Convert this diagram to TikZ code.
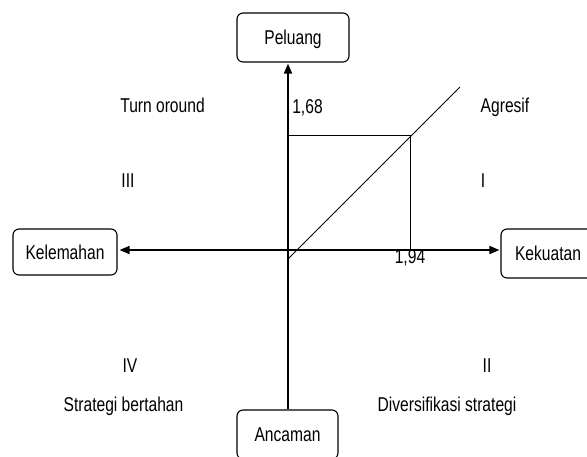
\documentclass[tikz,border=0pt]{standalone}
\usepackage{fontspec}
\setmainfont{Liberation Sans}[FakeStretch=0.78]
\usetikzlibrary{arrows.meta}
\begin{document}
\begin{tikzpicture}[x=1pt,y=-1pt,
  txt/.style={font=\fontsize{20}{24}\selectfont},
  box/.style={txt, draw, rounded corners=6pt, line width=1.1pt, text height=14.5pt, text depth=0pt, inner sep=0pt},
  lbl/.style={txt, anchor=base, inner sep=0pt},
  axis/.style={line width=1.6pt},
  tip/.style={-{Triangle[length=10pt,width=8pt]}},
  thinline/.style={line width=1pt}]
\useasboundingbox (0,0) rectangle (587,456);
\clip (0,0) rectangle (587,456);
% boxes
\node[box, minimum width=112pt, minimum height=49pt] (pel) at (293,37.5) {Peluang};
\node[box, minimum width=104pt, minimum height=46pt] (kel) at (65,252) {Kelemahan};
\node[box, minimum width=94pt, minimum height=49pt] (kek) at (548,253.5) {Kekuatan};
\node[box, minimum width=101pt, minimum height=49pt] (anc) at (287.5,434.5) {Ancaman};
% key points
\coordinate (O) at (288,250);
\coordinate (P) at (410,135);
\coordinate (d1) at (288,259);
\coordinate (d2) at (460,87);
% axes
\draw[axis, {Triangle[length=10pt,width=8pt]}-{Triangle[length=10pt,width=8pt]}, shorten <=2pt, shorten >=1pt] (kel.east |- O) -- (kek.west |- O);
\draw[axis, tip, shorten >=1pt] (anc.north -| O) -- (pel.south -| O);
% inner lines
\draw[thinline] (O |- P) -- (P) -- (P |- O);
\draw[thinline] (d1) -- (d2);
% labels
\node[lbl] (v168) at (307.5,113) {1,68};
\node[lbl] (v194) at (410,263) {1,94};
\node[lbl] (to) at (162.5,112) {Turn oround};
\node[lbl] (ag) at (505,112) {Agresif};
\node[lbl] (q3) at (128,187) {III};
\node[lbl] (q1) at (483,187) {I};
\node[lbl] (q4) at (130,372) {IV};
\node[lbl] (q2) at (487,372) {II};
\node[lbl] (sb) at (123.5,411) {Strategi bertahan};
\node[lbl] (ds) at (447,411) {Diversifikasi strategi};
\end{tikzpicture}
\end{document}
